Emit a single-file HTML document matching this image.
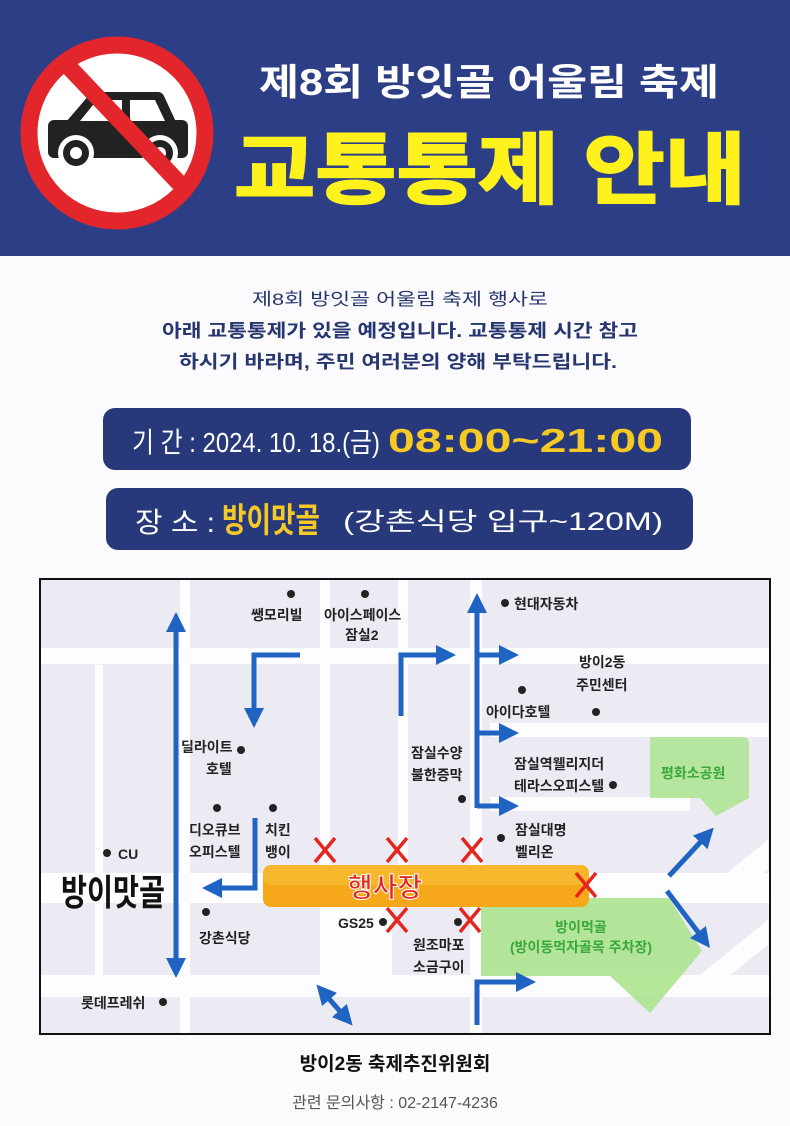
<!DOCTYPE html>
<html><head><meta charset="utf-8"><style>
html,body{margin:0;padding:0;background:#fbfbfd;}
svg{display:block}
text{font-family:"Liberation Sans","Noto Sans CJK KR",sans-serif;}
</style></head><body>
<svg width="790" height="1126" viewBox="0 0 790 1126" xmlns="http://www.w3.org/2000/svg">
<defs>
<marker id="ah" viewBox="0 0 10 10" refX="5" refY="5" markerWidth="4" markerHeight="4" orient="auto-start-reverse"><path d="M0,0 L10,5 L0,10 z" fill="#1f64c2"/></marker>
</defs>
<rect x="0" y="0" width="790" height="1126" fill="#fbfbfd"/>
<!-- header -->
<rect x="0" y="0" width="790" height="256" fill="#2c3f86"/>
<circle cx="117" cy="133" r="88" fill="#fff" stroke="#e3262b" stroke-width="17"/>
<rect x="48" y="120" width="140" height="38" rx="6" fill="#222"/>
<path d="M66,122 L90,94 Q92,92 96,92 L158,92 Q162,92 164,96 L176,122 Z" fill="#222"/>
<path d="M80,121 L97,100 L122,100 L122,121 Z M130,100 L155,100 L165,121 L130,121 Z" fill="#fff"/>
<circle cx="76" cy="153" r="18" fill="#fff"/><circle cx="76" cy="153" r="13" fill="#222"/><circle cx="76" cy="153" r="6" fill="#fff"/>
<circle cx="160" cy="153" r="18" fill="#fff"/><circle cx="160" cy="153" r="13" fill="#222"/><circle cx="160" cy="153" r="6" fill="#fff"/>
<line x1="66" y1="64" x2="180" y2="184" stroke="#e3262b" stroke-width="17"/>
<text x="489" y="95" font-size="37" font-weight="bold" fill="#fff" text-anchor="middle" textLength="460" lengthAdjust="spacingAndGlyphs">제8회 방잇골 어울림 축제</text>
<text x="490" y="197" font-size="78" font-weight="bold" fill="#fff21c" text-anchor="middle" textLength="512" lengthAdjust="spacingAndGlyphs" stroke="#fff21c" stroke-width="2">교통통제 안내</text>
<!-- intro -->
<g fill="#27366f" text-anchor="middle">
<text x="400" y="305" font-size="17" textLength="296" lengthAdjust="spacingAndGlyphs">제8회 방잇골 어울림 축제 행사로</text>
<text x="400" y="337" font-size="18" font-weight="bold" textLength="476" lengthAdjust="spacingAndGlyphs">아래 교통통제가 있을 예정입니다. 교통통제 시간 참고</text>
<text x="398" y="368" font-size="18" font-weight="bold" textLength="438" lengthAdjust="spacingAndGlyphs">하시기 바라며, 주민 여러분의 양해 부탁드립니다.</text>
</g>
<rect x="103" y="408" width="588" height="62" rx="12" fill="#27397a"/>
<text x="132" y="452" font-size="28" fill="#fff" textLength="248" lengthAdjust="spacingAndGlyphs">기 간 : 2024. 10. 18.(금)</text>
<text x="388" y="452" font-size="33" font-weight="bold" fill="#f7c924" textLength="275" lengthAdjust="spacingAndGlyphs">08:00~21:00</text>
<rect x="106" y="488" width="587" height="62" rx="12" fill="#27397a"/>
<text x="135" y="532" font-size="28" fill="#fff" textLength="80" lengthAdjust="spacingAndGlyphs">장 소 :</text>
<text x="222" y="532" font-size="34" font-weight="bold" fill="#f7c924" textLength="98" lengthAdjust="spacingAndGlyphs">방이맛골</text>
<text x="343" y="530" font-size="25" fill="#fff" textLength="320" lengthAdjust="spacingAndGlyphs">(강촌식당 입구~120M)</text>
<!-- map -->
<rect x="40" y="579" width="730" height="455" fill="#ecebf4" stroke="#111" stroke-width="2"/>
<g fill="#fdfdff">
<rect x="41" y="648" width="728" height="16"/>
<rect x="41" y="873" width="728" height="30"/>
<rect x="41" y="975" width="728" height="22"/>
<rect x="490" y="723" width="278" height="14"/>
<rect x="490" y="797" width="200" height="14"/>
<rect x="95" y="665" width="8" height="310"/>
<rect x="180" y="580" width="10" height="453"/>
<rect x="320" y="580" width="10" height="293"/>
<rect x="398" y="580" width="10" height="293"/>
<rect x="470" y="580" width="12" height="453"/>
<rect x="320" y="903" width="72" height="72"/>
<path d="M690,903 L768,840 L768,870 L720,903 Z"/>
<path d="M700,975 L768,920 L768,945 L730,975 Z"/>
</g>
<path d="M650,737 L742,737 Q749,737 749,744 L749,798 L716,816 L700,798 L650,798 Z" fill="#a8e38a" opacity=".8"/>
<path d="M481,898 L669,898 L702,951 L650,1013 L610,976 L481,976 Z" fill="#a8e38a" opacity=".85"/>
<rect x="263" y="865" width="326" height="42" rx="8" fill="#f6a81a"/>
<rect x="263" y="865" width="326" height="20" rx="8" fill="#f8be35" opacity=".7"/>
<text x="385" y="897" font-size="27" font-weight="bold" fill="#e5261e" stroke="#fff" stroke-width="1" text-anchor="middle">행사장</text>
<!-- arrows -->
<g stroke="#1f64c2" stroke-width="5" fill="none" stroke-linejoin="miter">
<line x1="176" y1="622" x2="176" y2="968" marker-start="url(#ah)" marker-end="url(#ah)"/>
<polyline points="300,655 254,655 254,718" marker-end="url(#ah)"/>
<polyline points="255,818 255,888 212,888" marker-end="url(#ah)"/>
<polyline points="401,716 401,655 446,655" marker-end="url(#ah)"/>
<line x1="477" y1="808" x2="477" y2="603" marker-end="url(#ah)"/>
<line x1="477" y1="655" x2="509" y2="655" marker-end="url(#ah)"/>
<line x1="477" y1="733" x2="509" y2="733" marker-end="url(#ah)"/>
<line x1="477" y1="806" x2="509" y2="806" marker-end="url(#ah)"/>
<polyline points="477,1025 477,982 526,982" marker-end="url(#ah)"/>
<line x1="323" y1="992" x2="346" y2="1018" marker-start="url(#ah)" marker-end="url(#ah)"/>
<line x1="669" y1="876" x2="707" y2="835" marker-end="url(#ah)"/>
<line x1="667" y1="891" x2="704" y2="940" marker-end="url(#ah)"/>
</g>
<!-- X marks -->
<g stroke="#e5261e" stroke-width="3.5">
<path d="M315,838 L335,862 M335,838 L315,862"/>
<path d="M387,838 L407,862 M407,838 L387,862"/>
<path d="M462,838 L482,862 M482,838 L462,862"/>
<path d="M576,873 L596,897 M596,873 L576,897"/>
<path d="M387,908 L407,932 M407,908 L387,932"/>
<path d="M460,908 L480,932 M480,908 L460,932"/>
</g>
<!-- dots -->
<g fill="#222">
<circle cx="291" cy="594" r="4"/><circle cx="365" cy="594" r="4"/>
<circle cx="505" cy="603" r="4"/><circle cx="522" cy="690" r="4"/><circle cx="596" cy="712" r="4"/>
<circle cx="241" cy="750" r="4"/><circle cx="217" cy="808" r="4"/><circle cx="273" cy="808" r="4"/>
<circle cx="462" cy="799" r="4"/><circle cx="613" cy="785" r="4"/><circle cx="501" cy="838" r="4"/>
<circle cx="107" cy="853" r="4"/><circle cx="206" cy="912" r="4"/><circle cx="383" cy="922" r="4"/>
<circle cx="458" cy="922" r="4"/><circle cx="163" cy="1002" r="4"/>
</g>
<g font-size="14" font-weight="bold" fill="#222">
<text x="251" y="620">쌩모리빌</text>
<text x="324" y="620">아이스페이스</text><text x="345" y="640">잠실2</text>
<text x="514" y="609">현대자동차</text>
<text x="579" y="667">방이2동</text><text x="576" y="690">주민센터</text>
<text x="486" y="717">아이다호텔</text>
<text x="181" y="752">딜라이트</text><text x="206" y="774">호텔</text>
<text x="411" y="758">잠실수양</text><text x="411" y="780">불한증막</text>
<text x="514" y="769">잠실역웰리지더</text><text x="514" y="791">테라스오피스텔</text>
<text x="189" y="835">디오큐브</text><text x="189" y="857">오피스텔</text>
<text x="265" y="835">치킨</text><text x="265" y="857">뱅이</text>
<text x="515" y="835">잠실대명</text><text x="515" y="857">벨리온</text>
<text x="118" y="859">CU</text>
<text x="199" y="943">강촌식당</text>
<text x="338" y="928">GS25</text>
<text x="413" y="950">원조마포</text><text x="413" y="972">소금구이</text>
<text x="81" y="1008">롯데프레쉬</text>
</g>
<text x="661" y="778" font-size="14" font-weight="bold" fill="#3aa83a">평화소공원</text>
<text x="581" y="932" font-size="14" font-weight="bold" fill="#3aa83a" text-anchor="middle">방이먹골</text>
<text x="581" y="952" font-size="14" font-weight="bold" fill="#3aa83a" text-anchor="middle">(방이동먹자골목 주차장)</text>
<text x="61" y="905" font-size="36" font-weight="bold" fill="#111" textLength="104" lengthAdjust="spacingAndGlyphs">방이맛골</text>
<!-- footer -->
<text x="395" y="1070" font-size="19" font-weight="bold" fill="#111" text-anchor="middle">방이2동 축제추진위원회</text>
<text x="395" y="1108" font-size="16" fill="#555" text-anchor="middle">관련 문의사항 : 02-2147-4236</text>
</svg>
</body></html>
